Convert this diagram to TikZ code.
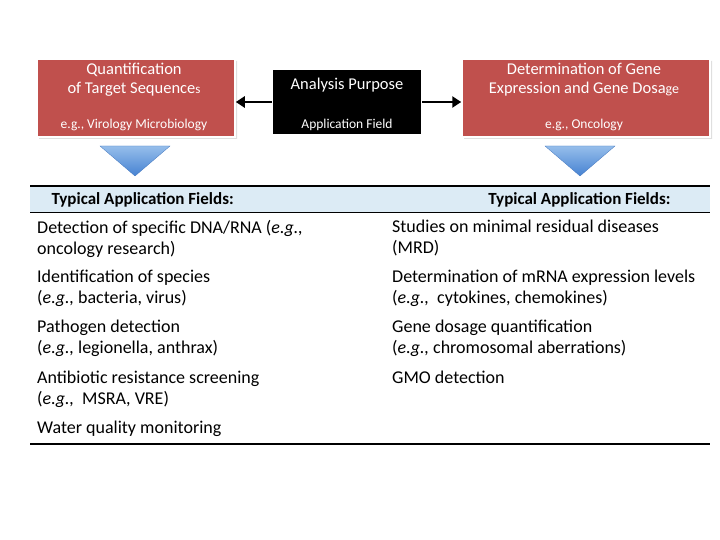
\documentclass[tikz,border=0pt]{standalone}
\usepackage{fontspec}
\setmainfont{Carlito}
\usetikzlibrary{arrows.meta}
\definecolor{boxred}{RGB}{192,80,77}
\definecolor{tribord}{RGB}{70,120,190}
\definecolor{tritop}{RGB}{150,190,235}
\definecolor{tribot}{RGB}{70,130,210}
\definecolor{headbg}{RGB}{220,235,245}
\begin{document}
\begin{tikzpicture}[x=1pt,y=-1pt,
  redbox/.style={draw=white,line width=1.5pt,fill=boxred,text=white,align=center},
  blackbox/.style={draw=white,line width=1pt,fill=black,text=white,align=center},
  tri/.style={draw=tribord,line width=0.3pt,top color=tritop,bottom color=tribot},
  cell/.style={anchor=north west,align=left,font=\fontsize{18}{21}\selectfont,inner sep=0pt},
  arr/.style={-{Triangle[length=9pt,width=11pt]},line width=2.5pt}]
\path[use as bounding box] (0,0) rectangle (720,540);
\path[fill=gray!25] (39,61) rectangle (237,139) (464,61) rectangle (712,139);
\node[redbox,minimum width=198pt,minimum height=78pt] (q) at (136,98) {};
\node[font=\fontsize{16.5}{19}\selectfont,text=white,align=center] (qt) at (134,80) {Quantification\\of Target Sequence{\fontsize{13}{14}\selectfont s}};
\node[font=\fontsize{13.5}{15}\selectfont,text=white] (qs) at (134,125) {e.g., Virology Microbiology};
\node[blackbox,minimum width=149pt,minimum height=65pt] (ap) at (347,102) {};
\node[font=\fontsize{16.5}{19}\selectfont,text=white] (apt) at (347,85) {Analysis Purpose};
\node[font=\fontsize{13.5}{15}\selectfont,text=white] (aps) at (347,125) {Application Field};
\node[redbox,minimum width=248pt,minimum height=78pt] (d) at (586,98) {};
\node[font=\fontsize{16.5}{19}\selectfont,text=white,align=center] (dt) at (584,80) {Determination of Gene\\Expression and Gene Dosa{\fontsize{14}{15}\selectfont ge}};
\node[font=\fontsize{13.5}{15}\selectfont,text=white] (ds) at (584,125) {e.g., Oncology};
\draw[arr] (ap.west) -- (ap.west -| q.east);
\draw[arr] (ap.east) -- (ap.east -| d.west);
\draw[tri] (100,146) -- (170,146) -- (135,176) -- cycle;
\draw[tri] (545,146) -- (615,146) -- (580,176) -- cycle;
\fill[headbg] (30,187) rectangle (710,213);
\draw[line width=2pt] (30,186) -- (710,186);
\draw[line width=1pt] (30,213) -- (710,213);
\draw[line width=1.5pt] (30,444) -- (710,444);
\node[font=\bfseries\fontsize{17}{20}\selectfont,anchor=west] (h1) at (48,200) {Typical Application Fields:};
\node[font=\bfseries\fontsize{17}{20}\selectfont,anchor=east] (h2) at (674,200) {Typical Application Fields:};
\node[cell] (a1) at (37,220) {Detection of specific DNA/RNA (\textit{e.g.,}\\oncology research)};
\node[cell] (a2) at (37,270) {Identification of species\\(\textit{e.g.,} bacteria, virus)};
\node[cell] (a3) at (37,320) {Pathogen detection\\(\textit{e.g.,} legionella, anthrax)};
\node[cell] (a4) at (37,371) {Antibiotic resistance screening\\(\textit{e.g.,}\ \ MSRA, VRE)};
\node[cell] (a5) at (37,421) {Water quality monitoring};
\node[cell] (b1) at (392,220) {Studies on minimal residual diseases\\(MRD)};
\node[cell] (b2) at (392,270) {Determination of mRNA expression levels\\(\textit{e.g.,}\ \ cytokines, chemokines)};
\node[cell] (b3) at (392,320) {Gene dosage quantification\\(\textit{e.g.,} chromosomal aberrations)};
\node[cell] (b4) at (392,371) {GMO detection};
\end{tikzpicture}
\end{document}
